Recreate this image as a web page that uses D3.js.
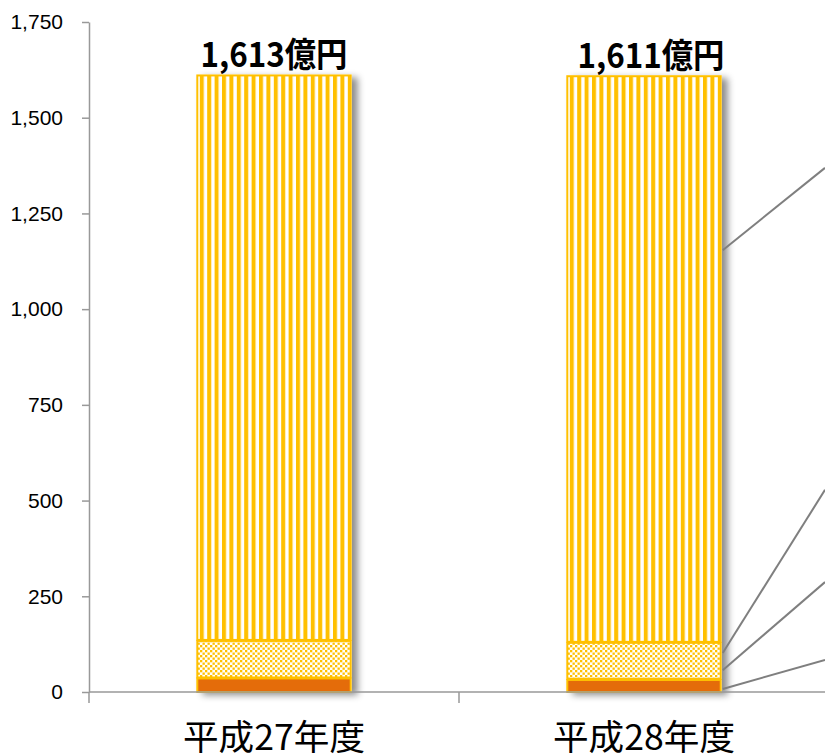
<!DOCTYPE html>
<html>
<head>
<meta charset="utf-8">
<script src="https://cdn.jsdelivr.net/npm/d3@7/dist/d3.min.js"></script>
<style>
  html, body { margin: 0; padding: 0; background: #fff; }
  svg { display: block; }
</style>
</head>
<body>
<svg id="chart" width="825" height="755"></svg>
<script>
// ---- data ----
const categories = ['平成27年度', '平成28年度'];
const bottomSeries = [38, 34];      // orange solid
const middleSeries = [98, 97];      // dotted
const topSeries = [1477, 1480];     // striped
const totalLabels = ['1,613億円', '1,611億円'];
const yTicks = [0, 250, 500, 750, 1000, 1250, 1500, 1750];
// connector lines leaving the second bar (values at start / at right edge)
const connectorStart = [1154, 102, 57, 8];
const connectorEnd = [1369, 528, 287, 84];

// ---- layout ----
const W = 825, H = 755;
const svg = d3.select('#chart');
const y = d3.scaleLinear().domain([0, 1750]).range([692, 22]);
const x = d3.scaleBand().domain(categories).range([89, 829]).padding(0);
const barW = x.bandwidth() * 0.42;
const bx = c => x(c) + (x.bandwidth() - barW) / 2;

const defs = svg.append('defs');
const stripe = defs.append('pattern').attr('id', 'stripe')
  .attr('patternUnits', 'userSpaceOnUse').attr('width', 7.4).attr('height', 10);
stripe.append('rect').attr('width', 7.4).attr('height', 10).attr('fill', '#fff');
stripe.append('rect').attr('x', 0).attr('width', 4).attr('height', 10).attr('fill', '#FFC000');

const dots = defs.append('pattern').attr('id', 'dots')
  .attr('patternUnits', 'userSpaceOnUse').attr('width', 5).attr('height', 5);
dots.append('rect').attr('width', 5).attr('height', 5).attr('fill', '#fff');
dots.append('rect').attr('x', 0).attr('y', 0).attr('width', 2.3).attr('height', 2.3).attr('fill', '#FFC000');
dots.append('rect').attr('x', 2.5).attr('y', 2.5).attr('width', 2.3).attr('height', 2.3).attr('fill', '#FFC000');

const sh = defs.append('filter').attr('id', 'shadow')
  .attr('x', '-20%').attr('y', '-10%').attr('width', '140%').attr('height', '120%');
sh.append('feDropShadow').attr('dx', 6).attr('dy', 3).attr('stdDeviation', 3.5)
  .attr('flood-color', '#000').attr('flood-opacity', 0.45);

// ---- bars ----
const rows = categories.map((c, i) => ({
  c, a: bottomSeries[i], b: middleSeries[i], t: topSeries[i], label: totalLabels[i]
}));

const g = svg.append('g');
// shadow
g.selectAll('rect.sh').data(rows).join('rect')
  .attr('class', 'sh')
  .attr('x', d => bx(d.c)).attr('width', barW)
  .attr('y', d => y(d.a + d.b + d.t)).attr('height', d => y(0) - y(d.a + d.b + d.t))
  .attr('fill', '#fff').attr('filter', 'url(#shadow)');

const segs = [];
rows.forEach(d => {
  segs.push({ c: d.c, y0: 0, y1: d.a, fill: '#E46C0A' });
  segs.push({ c: d.c, y0: d.a, y1: d.a + d.b, fill: 'url(#dots)' });
  segs.push({ c: d.c, y0: d.a + d.b, y1: d.a + d.b + d.t, fill: 'url(#stripe)' });
});
g.selectAll('rect.seg').data(segs).join('rect')
  .attr('class', 'seg')
  .attr('x', d => bx(d.c) + 1).attr('width', barW - 2)
  .attr('y', d => y(d.y1) + 1).attr('height', d => y(d.y0) - y(d.y1) - 1)
  .attr('fill', d => d.fill)
  .attr('stroke', '#FFC000').attr('stroke-width', 2);

// total labels
g.selectAll('text.tot').data(rows).join('text')
  .attr('class', 'tot')
  .attr('x', (d, i) => bx(d.c) + barW / 2 + (i === 0 ? 0 : 7))
  .attr('y', d => y(d.a + d.b + d.t) - 7)
  .attr('text-anchor', 'middle')
  .attr('font-family', '"Noto Sans CJK JP", sans-serif')
  .attr('font-weight', 'bold').attr('font-size', 34)
  .attr('textLength', 147).attr('lengthAdjust', 'spacingAndGlyphs')
  .attr('fill', '#000')
  .text(d => d.label);

// ---- axes ----
const yAxis = svg.append('g').attr('transform', 'translate(89,0)')
  .call(d3.axisLeft(y).tickValues(yTicks).tickFormat(d3.format(',')).tickSize(7).tickSizeOuter(0).tickPadding(19));
yAxis.select('.domain').attr('stroke', '#999').attr('stroke-width', 1.5);
yAxis.selectAll('.tick line').attr('stroke', '#999').attr('stroke-width', 1.5);
yAxis.selectAll('.tick text')
  .attr('font-family', '"Liberation Sans", Arial, sans-serif')
  .attr('font-size', 21).attr('fill', '#000');

// x axis line and boundary ticks
svg.append('line').attr('x1', 89).attr('x2', W).attr('y1', y(0)).attr('y2', y(0))
  .attr('stroke', '#999').attr('stroke-width', 1.5);
const bounds = categories.map(c => x(c)).concat([x(categories[categories.length - 1]) + x.bandwidth()]);
svg.selectAll('line.xt').data(bounds).join('line')
  .attr('class', 'xt')
  .attr('x1', d => d).attr('x2', d => d)
  .attr('y1', y(0)).attr('y2', y(0) + 11)
  .attr('stroke', '#999').attr('stroke-width', 1.5);
svg.selectAll('text.xl').data(categories).join('text')
  .attr('class', 'xl')
  .attr('x', d => x(d) + x.bandwidth() / 2)
  .attr('y', 750)
  .attr('text-anchor', 'middle')
  .attr('font-family', '"Noto Sans CJK JP", sans-serif')
  .attr('font-size', 35)
  .attr('textLength', 182).attr('lengthAdjust', 'spacingAndGlyphs')
  .attr('fill', '#000')
  .text(d => d);

// ---- connector lines ----
const lastC = categories[categories.length - 1];
const x0 = bx(lastC) + barW + 1;
svg.selectAll('line.conn').data(connectorStart.map((s, i) => ({ s, e: connectorEnd[i] }))).join('line')
  .attr('class', 'conn')
  .attr('x1', x0).attr('y1', d => y(d.s))
  .attr('x2', W).attr('y2', d => y(d.e))
  .attr('stroke', '#7F7F7F').attr('stroke-width', 2);
</script>
</body>
</html>
